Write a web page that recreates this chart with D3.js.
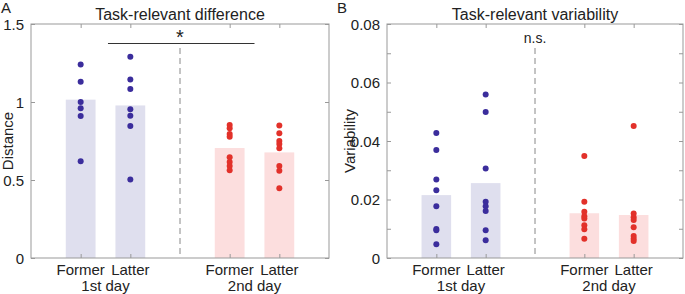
<!DOCTYPE html>
<html lang="en">
<head>
    <meta charset="UTF-8">
    <title>Task-relevant difference and variability</title>
    <script src="https://d3js.org/d3.v7.min.js"></script>
    <style>
        body { margin: 0; background: #fff; }
        text {
            font-family: "Liberation Sans", Arial, sans-serif;
            fill: #222;
        }
        .title { font-size: 16px; text-anchor: middle; }
        .tick-label { font-size: 15px; }
        .panel-letter { font-size: 15px; }
    </style>
</head>
<body>
<script>
    // categories: two halves on each of two days
    let halves = ["Former", "Latter", "Former", "Latter"];
    let days = ["1st day", "2nd day"];

    // panel A: task-relevant difference (distance)
    let distMean = [1.015, 0.978, 0.705, 0.677];
    let distPoints = [
        [1.24, 1.13, 1.00, 0.96, 0.91, 0.62],
        [1.29, 1.145, 1.083, 0.953, 0.912, 0.846, 0.504],
        [0.853, 0.831, 0.795, 0.778, 0.646, 0.615, 0.59, 0.562],
        [0.85, 0.80, 0.75, 0.73, 0.703, 0.59, 0.56, 0.447]
    ];
    let distTicks = [0, 0.5, 1, 1.5];
    let distTickLabels = ["0", "0.5", "1", "1.5"];

    // panel B: task-relevant variability
    let varMean = [0.0215, 0.0256, 0.0153, 0.0147];
    let varPoints = [
        [0.0427, 0.0369, 0.0268, 0.0232, 0.0177, 0.0099, 0.0095, 0.0047],
        [0.0559, 0.0499, 0.0306, 0.0192, 0.0177, 0.0161, 0.0095, 0.0061],
        [0.0349, 0.0192, 0.0158, 0.0143, 0.0135, 0.0112, 0.0098, 0.0066],
        [0.0451, 0.0152, 0.0139, 0.0130, 0.0105, 0.0075, 0.0066, 0.0058]
    ];
    let varTicks = [0, 0.01, 0.02, 0.03, 0.04, 0.05, 0.06, 0.07, 0.08];
    let varTickLabels = ["0", "", "0.02", "", "0.04", "", "0.06", "", "0.08"];

    let dotColors = ["#3b2d9c", "#3b2d9c", "#e2312a", "#e2312a"];
    let barColors = ["#dfdfee", "#dfdfee", "#fcdede", "#fcdede"];

    let width = 685;
    let height = 294;

    let svg = d3.select("body").append("svg")
        .attr("width", width)
        .attr("height", height);

    // slot on the x axis: 1, 2 for day 1 and 4, 5 for day 2
    function slot(i) {
        return i < 2 ? i + 1 : i + 2;
    }

    function drawPanel(opt) {
        let x = d3.scaleLinear().domain([0, 6]).range([opt.left, opt.right]);
        let y = d3.scaleLinear().domain(opt.yDomain).range([258, 24]);
        let g = svg.append("g");

        // bars
        g.selectAll(".bar")
            .data(opt.means)
            .enter().append("rect")
            .attr("x", (d, i) => x(slot(i) - 0.3))
            .attr("width", x(0.6) - x(0))
            .attr("y", d => y(d))
            .attr("height", d => y(0) - y(d))
            .attr("fill", (d, i) => barColors[i]);

        // dots
        opt.points.forEach((pts, i) => {
            g.selectAll(null)
                .data(pts)
                .enter().append("circle")
                .attr("cx", x(slot(i)))
                .attr("cy", d => y(d))
                .attr("r", 3)
                .attr("fill", dotColors[i]);
        });

        // dashed separator
        g.append("line")
            .attr("x1", x(3)).attr("x2", x(3))
            .attr("y1", 48).attr("y2", y(0))
            .attr("stroke", "#888")
            .attr("stroke-width", 1)
            .attr("stroke-dasharray", "6,4");

        // box axes
        let axisColor = "#999";
        let left = d3.axisLeft(y).tickValues(opt.ticks).tickFormat((d, i) => opt.tickLabels[i]).tickSize(4).tickPadding(3);
        let right = d3.axisRight(y).tickValues(opt.ticks).tickFormat("").tickSize(-4);
        let bottom = d3.axisBottom(x).tickValues([1, 2, 4, 5]).tickFormat("").tickSize(-4);
        let top = d3.axisTop(x).tickValues([1, 2, 4, 5]).tickFormat("").tickSize(-4);

        let gl = g.append("g").attr("transform", "translate(" + opt.left + ",0)").call(left);
        gl.selectAll("line").attr("x2", 4);
        gl.selectAll("text").attr("class", "tick-label").attr("fill", "#222").attr("dy", "0.35em");
        g.append("g").attr("transform", "translate(" + opt.right + ",0)").call(right);
        g.append("g").attr("transform", "translate(0," + y(0) + ")").call(bottom);
        g.append("g").attr("transform", "translate(0," + y(opt.yDomain[1]) + ")").call(top);
        g.selectAll(".domain").attr("stroke", axisColor).attr("d", null);
        g.selectAll(".tick line").attr("stroke", axisColor);

        g.append("rect")
            .attr("x", opt.left).attr("y", 24)
            .attr("width", opt.right - opt.left).attr("height", y(0) - 24)
            .attr("fill", "none").attr("stroke", axisColor).attr("stroke-width", 1);

        // category labels
        halves.forEach((h, i) => {
            g.append("text")
                .attr("class", "tick-label")
                .attr("x", x(slot(i)))
                .attr("y", 275)
                .attr("text-anchor", "middle")
                .text(h);
        });
        days.forEach((d, j) => {
            g.append("text")
                .attr("class", "tick-label")
                .attr("x", x(j * 3 + 1.5))
                .attr("y", 291)
                .attr("text-anchor", "middle")
                .text(d);
        });

        // title and y label
        g.append("text")
            .attr("class", "title")
            .attr("x", (opt.left + opt.right) / 2)
            .attr("y", 20)
            .text(opt.title);

        g.append("text")
            .attr("class", "tick-label")
            .attr("text-anchor", "middle")
            .attr("transform", "translate(" + opt.labelX + ",141) rotate(-90)")
            .text(opt.yLabel);

        g.append("text")
            .attr("class", "panel-letter")
            .attr("x", opt.letterX)
            .attr("y", 13)
            .text(opt.letter);

        return {x: x, y: y, g: g};
    }

    let a = drawPanel({
        left: 31, right: 329, yDomain: [0, 1.5],
        means: distMean, points: distPoints,
        ticks: distTicks, tickLabels: distTickLabels,
        title: "Task-relevant difference", yLabel: "Distance",
        letter: "A", letterX: 1, labelX: 13
    });

    // significance marker between days
    a.g.append("line")
        .attr("x1", a.x(1.55)).attr("x2", a.x(4.5))
        .attr("y1", 43.5).attr("y2", 43.5)
        .attr("stroke", "#333").attr("stroke-width", 1);
    a.g.append("text")
        .attr("x", a.x(3))
        .attr("y", 44)
        .attr("text-anchor", "middle")
        .style("font-size", "20px")
        .text("*");

    let b = drawPanel({
        left: 387, right: 683, yDomain: [0, 0.08],
        means: varMean, points: varPoints,
        ticks: varTicks, tickLabels: varTickLabels,
        title: "Task-relevant variability", yLabel: "Variability",
        letter: "B", letterX: 337, labelX: 355
    });

    b.g.append("text")
        .attr("x", b.x(3))
        .attr("y", 43)
        .attr("text-anchor", "middle")
        .style("font-size", "14px")
        .text("n.s.");
</script>
</body>
</html>
